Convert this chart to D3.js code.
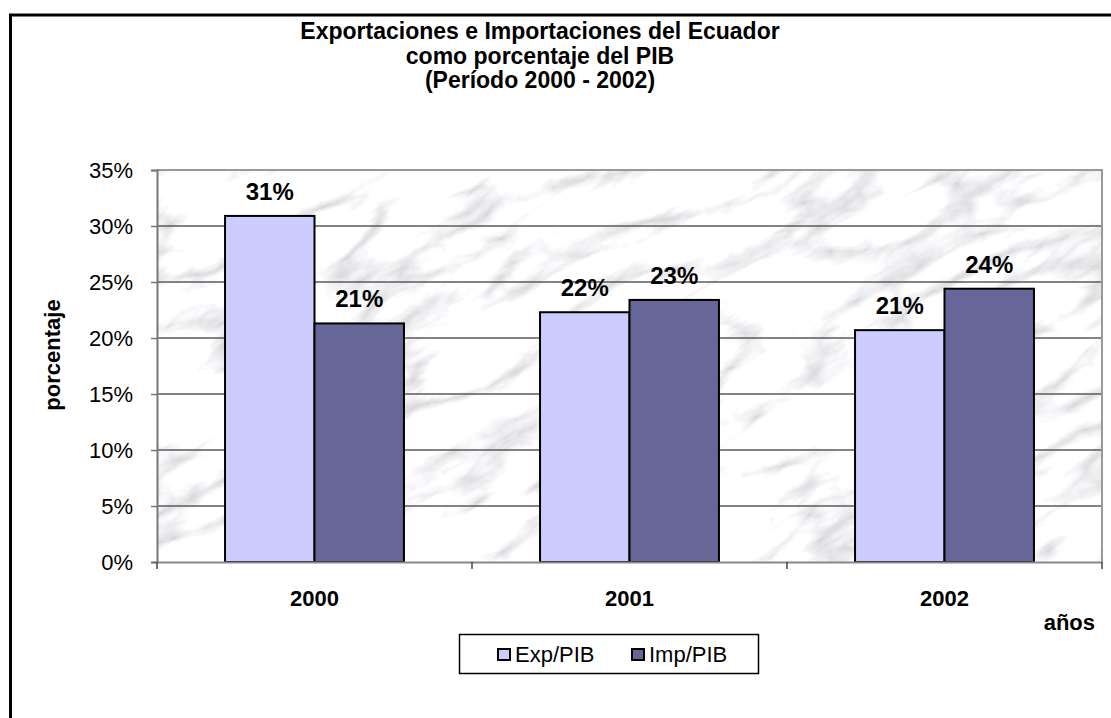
<html>
<head>
  <script src="https://d3js.org/d3.v7.min.js"></script>
  <style>
    body { margin: 0; background: #fff; }
    text { font-family: "Liberation Sans", Arial, sans-serif; fill: #000; }
    .title { font-size: 23px; font-weight: bold; }
    .tick-y { font-size: 22px; }
    .tick-x { font-size: 22px; font-weight: bold; }
    .axis-title { font-size: 22px; font-weight: bold; }
    .value { font-size: 24px; font-weight: bold; }
    .legend text { font-size: 22px; }
  </style>
</head>
<body>
  <svg width="1111" height="718"></svg>

  <script>
    var years = ["2000", "2001", "2002"];
    var series = ["Exp/PIB", "Imp/PIB"];
    var expPib = [30.9, 22.3, 20.7];
    var impPib = [21.3, 23.4, 24.4];
    var yTicks = [0, 5, 10, 15, 20, 25, 30, 35];
    var titleLines = ["Exportaciones e Importaciones del Ecuador", "como porcentaje del PIB", "(Período 2000 - 2002)"];
    var colors = ["#CCCCFF", "#666699"];

    var svg = d3.select("svg");
    var plot = {left: 157, right: 1102, top: 170, bottom: 562};

    // marble texture for the plot area
    var defs = svg.append("defs");
    var f = defs.append("filter").attr("id", "marble")
        .attr("x", 0).attr("y", 0).attr("width", 1).attr("height", 1)
        .attr("filterUnits", "objectBoundingBox");
    f.append("feTurbulence").attr("type", "turbulence")
        .attr("baseFrequency", "0.007 0.018").attr("numOctaves", 5).attr("seed", 11);
    f.append("feColorMatrix").attr("type", "matrix")
        .attr("values", "1.1 0 0 0 0.66  1.1 0 0 0 0.66  1.1 0 0 0 0.68  0 0 0 0 1");
    defs.append("clipPath").attr("id", "plotclip")
      .append("rect")
        .attr("x", plot.left).attr("y", plot.top)
        .attr("width", plot.right - plot.left).attr("height", plot.bottom - plot.top);

    // outer chart border (only left and top visible)
    svg.append("rect")
        .attr("x", 10.5).attr("y", 15)
        .attr("width", 1300).attr("height", 900)
        .attr("fill", "#fff").attr("stroke", "#000").attr("stroke-width", 3);

    var x0 = d3.scaleBand().domain(years).range([plot.left, plot.right]);
    var bw = x0.bandwidth();
    var x1 = d3.scaleBand().domain(series).range([bw * 0.216, bw * 0.784]);
    var y = d3.scaleLinear().domain([0, 35]).range([plot.bottom, plot.top]);

    var bg = svg.append("g").attr("clip-path", "url(#plotclip)");
    bg.append("rect")
        .attr("x", -200).attr("y", 0).attr("width", 1600).attr("height", 1400)
        .attr("filter", "url(#marble)")
        .attr("transform", "translate(" + plot.left + "," + plot.top + ") rotate(-28) translate(-300,-500)");

    // gridlines
    svg.append("g").selectAll("line")
      .data(yTicks.slice(1, -1))
      .enter().append("line")
        .attr("x1", plot.left).attr("x2", plot.right)
        .attr("y1", function(d) { return y(d); }).attr("y2", function(d) { return y(d); })
        .attr("stroke", "#5a5a5a").attr("stroke-width", 1.5);

    // plot frame top/right
    svg.append("path")
        .attr("d", "M" + plot.left + "," + plot.top + "H" + plot.right + "V" + plot.bottom)
        .attr("fill", "none").attr("stroke", "#999").attr("stroke-width", 2);

    // bars
    var data = years.map(function(yr, i) {
      return {year: yr, values: [expPib[i], impPib[i]]};
    });
    var groups = svg.append("g").selectAll("g")
      .data(data)
      .enter().append("g")
        .attr("transform", function(d) { return "translate(" + x0(d.year) + ",0)"; });
    groups.selectAll("rect")
      .data(function(d) { return d.values.map(function(v, j) { return {s: series[j], v: v, j: j}; }); })
      .enter().append("rect")
        .attr("x", function(d) { return x1(d.s); })
        .attr("y", function(d) { return y(d.v); })
        .attr("width", x1.bandwidth())
        .attr("height", function(d) { return y(0) - y(d.v); })
        .attr("fill", function(d) { return colors[d.j]; })
        .attr("stroke", "#000").attr("stroke-width", 2);
    groups.selectAll("text")
      .data(function(d) { return d.values.map(function(v, j) { return {s: series[j], v: v}; }); })
      .enter().append("text")
        .attr("class", "value")
        .attr("x", function(d) { return x1(d.s) + x1.bandwidth() / 2; })
        .attr("y", function(d) { return y(d.v) - 16; })
        .attr("text-anchor", "middle")
        .text(function(d) { return d3.format(".0%")(d.v / 100); });

    // y axis
    var yAxis = svg.append("g")
        .attr("transform", "translate(" + plot.left + ",0)")
        .call(d3.axisLeft(y).tickValues(yTicks).tickSize(6).tickPadding(18)
          .tickFormat(function(d) { return d + "%"; }));
    yAxis.select(".domain").attr("stroke", "#777").attr("stroke-width", 2);
    yAxis.selectAll(".tick line").attr("stroke", "#777").attr("stroke-width", 1.5);
    yAxis.selectAll(".tick text").attr("class", "tick-y").attr("fill", "#000")
        .attr("font-family", null).attr("font-size", null);

    // x axis
    var xAxis = svg.append("g")
        .attr("transform", "translate(0," + plot.bottom + ")")
        .call(d3.axisBottom(x0).tickSize(0).tickPadding(28));
    xAxis.select(".domain").attr("stroke", "#888").attr("stroke-width", 2);
    xAxis.selectAll(".tick text").attr("class", "tick-x").attr("fill", "#000")
        .attr("font-family", null).attr("font-size", null);
    xAxis.selectAll(".sep")
      .data(years.map(function(d) { return x0(d); }).concat([plot.right]))
      .enter().append("line")
        .attr("x1", function(d) { return d; }).attr("x2", function(d) { return d; })
        .attr("y1", 0).attr("y2", 7)
        .attr("stroke", "#444").attr("stroke-width", 1.5);

    // titles
    svg.append("g").selectAll("text")
      .data(titleLines)
      .enter().append("text")
        .attr("class", "title")
        .attr("x", 540)
        .attr("y", function(d, i) { return 39 + i * 24.5; })
        .attr("text-anchor", "middle")
        .text(function(d) { return d; });

    svg.append("text")
        .attr("class", "axis-title")
        .attr("transform", "translate(60,355) rotate(-90)")
        .attr("text-anchor", "middle")
        .text("porcentaje");

    svg.append("text")
        .attr("class", "axis-title")
        .attr("x", 1095).attr("y", 630)
        .attr("text-anchor", "end")
        .text("años");

    // legend
    var legend = svg.append("g").attr("class", "legend");
    legend.append("rect")
        .attr("x", 459.5).attr("y", 634.5).attr("width", 299).attr("height", 39)
        .attr("fill", "#fff").attr("stroke", "#000").attr("stroke-width", 1.5);
    var items = legend.selectAll("g.item")
      .data(series)
      .enter().append("g")
        .attr("class", "item")
        .attr("transform", function(d, i) { return "translate(" + [498, 632][i] + ",649)"; });
    items.append("rect")
        .attr("width", 12).attr("height", 11)
        .attr("fill", function(d, i) { return colors[i]; })
        .attr("stroke", "#000").attr("stroke-width", 2);
    items.append("text")
        .attr("x", 17).attr("y", 13)
        .text(function(d) { return d; });
  </script>
</body>
</html>
